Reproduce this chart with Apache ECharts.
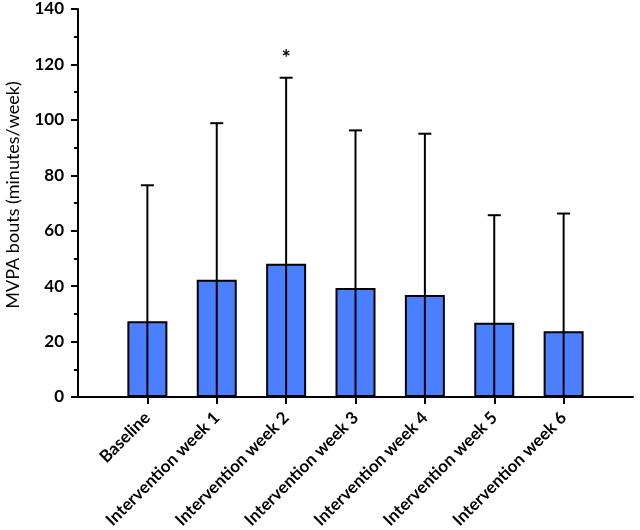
<!DOCTYPE html>
<html>
<head>
<meta charset="utf-8">
<script src="https://cdn.jsdelivr.net/npm/echarts@6/dist/echarts.min.js"></script>
<style>html,body{margin:0;padding:0;background:#fff;}#c{width:640px;height:530px;}</style>
</head>
<body>
<div id="c"></div>
<script>
var categories = ['Baseline', 'Intervention week 1', 'Intervention week 2', 'Intervention week 3', 'Intervention week 4', 'Intervention week 5', 'Intervention week 6'];
var means = [27.3, 42.3, 48.1, 39.3, 36.8, 26.8, 23.7];
var upperErr = [76.4, 98.8, 115.2, 96.2, 95.0, 65.6, 66.2];
var significance = ['', '', '*', '', '', '', ''];
var yTicks = [0, 20, 40, 60, 80, 100, 120, 140];

var idx = categories.map(function (c, i) { return i; });
var FONT = 'Lato, "Open Sans", sans-serif';

var chart = echarts.init(document.getElementById('c'), null, {renderer: 'canvas'});
chart.setOption({
  animation: false,
  backgroundColor: '#fff',
  grid: {left: 78, right: 7, top: 9, bottom: 133, containLabel: false, outerBoundsMode: 'none'},
  xAxis: {
    type: 'value', min: -1, max: categories.length, interval: 1,
    splitLine: {show: false},
    axisLine: {show: true, onZero: false, lineStyle: {color: '#000', width: 2}},
    axisTick: {show: true, inside: false, length: 7, lineStyle: {color: '#000', width: 2}, customValues: idx},
    axisLabel: {
      customValues: idx, rotate: 45, margin: 18, color: '#000',
      fontFamily: FONT, fontWeight: 'bold', fontSize: 17,
      formatter: function (v) { return categories[Math.round(v)] || ''; }
    }
  },
  yAxis: {
    type: 'value', min: yTicks[0], max: yTicks[yTicks.length - 1], interval: 20,
    name: 'MVPA bouts (minutes/week)', nameLocation: 'middle', nameGap: 56, nameRotate: 90,
    nameTextStyle: {color: '#000', fontFamily: FONT, fontSize: 18, fontWeight: 'normal', padding: [0, 0, 0, 16]},
    splitLine: {show: false},
    axisLine: {show: true, onZero: false, lineStyle: {color: '#000', width: 2}},
    axisTick: {show: true, inside: false, length: 7, lineStyle: {color: '#000', width: 2}},
    minorTick: {show: true, splitNumber: 2, length: 4, lineStyle: {color: '#000', width: 2}},
    axisLabel: {margin: 14, color: '#000', fontFamily: FONT, fontWeight: 'bold', fontSize: 17}
  },
  series: [
    {
      type: 'bar', barWidth: 40,
      data: means.map(function (v, i) { return [i, v]; }),
      itemStyle: {color: '#4a80ff', borderColor: '#000', borderWidth: 2},
      z: 2
    },
    {
      type: 'custom', z: 3,
      data: upperErr.map(function (u, i) { return [i, u]; }),
      renderItem: function (params, api) {
        var x = api.value(0);
        var top = api.coord([x, api.value(1)]);
        var bot = api.coord([x, 0]);
        var capHalf = 6.5;
        var children = [
          {type: 'line', shape: {x1: top[0], y1: bot[1], x2: top[0], y2: top[1]}, style: {stroke: '#000', lineWidth: 2}},
          {type: 'line', shape: {x1: top[0] - capHalf, y1: top[1], x2: top[0] + capHalf, y2: top[1]}, style: {stroke: '#000', lineWidth: 2}}
        ];
        var s = significance[params.dataIndex];
        if (s) {
          children.push({type: 'text', x: top[0], y: top[1] - 30,
            style: {text: s, fill: '#000', font: 'bold 22px ' + FONT, align: 'center', verticalAlign: 'top'}});
        }
        return {type: 'group', children: children};
      }
    }
  ]
});
</script>
</body>
</html>
